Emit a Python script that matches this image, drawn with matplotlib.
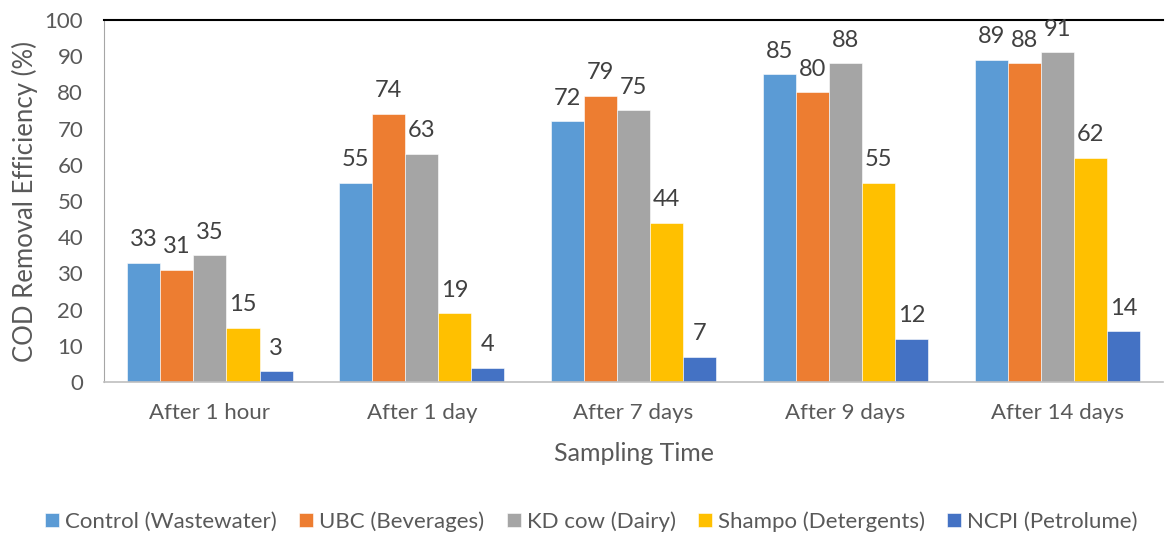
import matplotlib
matplotlib.use("Agg")
import matplotlib.pyplot as plt
import numpy as np

categories = ["After 1 hour", "After 1 day", "After 7 days", "After 9 days", "After 14 days"]
series_names = ["Control (Wastewater)", "UBC (Beverages)", "KD cow (Dairy)", "Shampo (Detergents)", "NCPI (Petrolume)"]
control = [33, 55, 72, 85, 89]
ubc = [31, 74, 79, 80, 88]
kdcow = [35, 63, 75, 88, 91]
shampo = [15, 19, 44, 55, 62]
ncpi = [3, 4, 7, 12, 14]
colors = ["#5B9BD5", "#ED7D31", "#A5A5A5", "#FFC000", "#4472C4"]
yticks = list(range(0, 101, 10))

plt.rcParams['font.family'] = ['Lato', 'DejaVu Sans']
fig = plt.figure(figsize=(11.69, 5.36), dpi=100)
ax = fig.add_axes([0.089, 0.287, 0.906, 0.676])

data = [control, ubc, kdcow, shampo, ncpi]
x = np.arange(len(categories))
w = 0.156
for i, (vals, name, c) in enumerate(zip(data, series_names, colors)):
    pos = x + (i - 2) * w
    ax.bar(pos, vals, w, color=c, label=name, edgecolor='white', linewidth=0.4)
    for xp, v in zip(pos, vals):
        ax.annotate(f"{v}", (xp, v), xytext=(0, 12), textcoords='offset points',
                    ha='center', va='baseline', fontsize=17, color='#404040',
                    annotation_clip=False)

ax.set_xlim(-0.5, 4.5)
ax.set_ylim(0, 100)
ax.set_yticks(yticks)
ax.set_xticks(x)
ax.set_xticklabels(categories)
ax.tick_params(axis='both', length=0, labelsize=16, labelcolor='#595959')
ax.tick_params(axis='x', pad=15)
ax.tick_params(axis='y', pad=15)
ax.spines['right'].set_visible(False)
ax.spines['top'].set_color('black')
ax.spines['top'].set_linewidth(1.5)
ax.spines['left'].set_color('#A6A6A6')
ax.spines['bottom'].set_color('#BFBFBF')
ax.spines['bottom'].set_linewidth(1.2)
ax.set_xlabel("Sampling Time", fontsize=18, color='#595959', labelpad=14)
ax.set_ylabel("COD Removal Efficiency (%)", fontsize=18.5, color='#595959', labelpad=5)

fig.legend(loc='center', bbox_to_anchor=(0.506, 0.027), ncol=5, frameon=False,
           fontsize=16, handlelength=0.63, handleheight=0.63, handletextpad=0.27,
           columnspacing=1.0, labelcolor='#595959')
fig.savefig("out.png", dpi=100)
